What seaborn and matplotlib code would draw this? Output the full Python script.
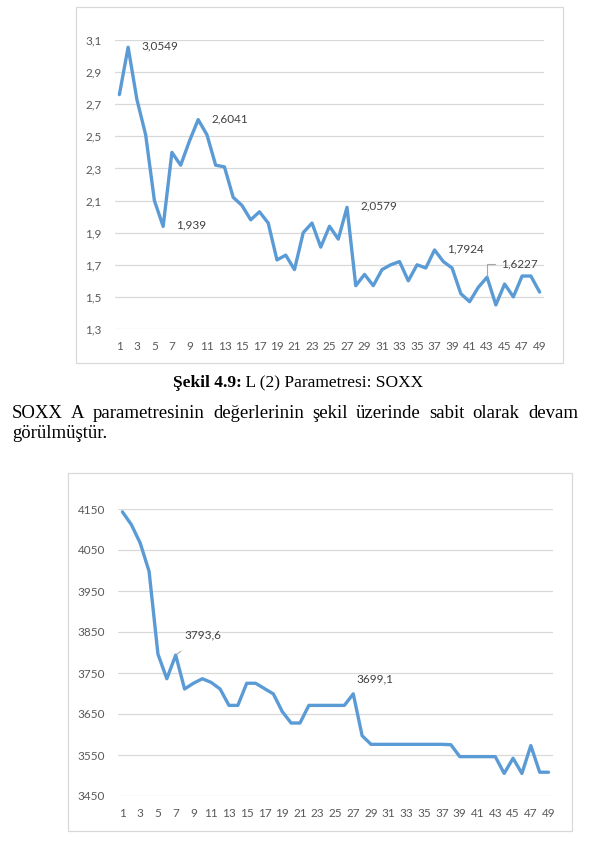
import numpy as np
import pandas as pd
import matplotlib
matplotlib.use('Agg')
import matplotlib.pyplot as plt
import seaborn as sns
from matplotlib.patches import Rectangle

# ---- data ----
iterations = list(range(1, 50))

soxx_l = [2.76, 3.0549, 2.73, 2.51, 2.10, 1.939, 2.40, 2.32, 2.47, 2.6041,
          2.51, 2.32, 2.31, 2.12, 2.07, 1.98, 2.03, 1.96, 1.73, 1.76,
          1.67, 1.90, 1.96, 1.81, 1.94, 1.86, 2.0579, 1.57, 1.64, 1.57,
          1.67, 1.70, 1.72, 1.60, 1.70, 1.68, 1.7924, 1.72, 1.68, 1.52,
          1.47, 1.56, 1.6227, 1.45, 1.58, 1.50, 1.63, 1.63, 1.53]

soxx_a = [4143, 4112, 4067, 3998, 3796, 3736, 3793.6, 3711, 3725, 3736,
          3727, 3711, 3671, 3671, 3725, 3725, 3712, 3699, 3656, 3628,
          3628, 3671, 3671, 3671, 3671, 3671, 3699.1, 3597, 3576, 3576,
          3576, 3576, 3576, 3576, 3576, 3576, 3576, 3575, 3546, 3546,
          3546, 3546, 3546, 3505, 3542, 3505, 3573, 3508, 3508]

ticks1 = [1.3, 1.5, 1.7, 1.9, 2.1, 2.3, 2.5, 2.7, 2.9, 3.1]
ticks2 = [3450, 3550, 3650, 3750, 3850, 3950, 4050, 4150]

caption_bold = 'Şekil 4.9:'
caption_rest = ' L (2) Parametresi: SOXX'
para_line1 = 'SOXX A parametresinin değerlerinin şekil üzerinde sabit olarak devam'
para_line2 = 'görülmüştür.'

# ---- style ----
sns.set_theme(style='white')
plt.rcParams['font.family'] = ['Lato', 'DejaVu Sans']

LINE = '#5B9BD5'
GRID = '#D9D9D9'
TICK = '#595959'
LABEL = '#404040'
FS = 8.5

W, H = 591, 843
fig = plt.figure(figsize=(W / 100, H / 100), dpi=100)
fig.patch.set_facecolor('white')


def px_axes(x0, y0, x1, y1):
    return fig.add_axes([x0 / W, 1 - y1 / H, (x1 - x0) / W, (y1 - y0) / H])


def frame(x0, y0, x1, y1):
    fig.patches.append(Rectangle((x0 / W, 1 - y1 / H), (x1 - x0) / W, (y1 - y0) / H,
                                 transform=fig.transFigure, fill=False,
                                 edgecolor=GRID, linewidth=0.9, zorder=0))


def style_axes(ax, ticks, fmt, ylim):
    ax.set_xlim(0.5, 49.5)
    ax.set_ylim(*ylim)
    ax.set_yticks(ticks)
    ax.set_yticklabels([fmt(t) for t in ticks])
    ax.set_xticks(iterations[::2])
    ax.set_xticklabels([str(i) for i in iterations[::2]])
    ax.tick_params(axis='both', length=0, colors=TICK, labelsize=FS)
    ax.tick_params(axis='y', pad=9.5)
    ax.tick_params(axis='x', pad=8.5)
    ax.yaxis.grid(True, color=GRID, linewidth=0.9)
    ax.xaxis.grid(False)
    ax.set_axisbelow(True)
    for s in ax.spines.values():
        s.set_visible(False)
    ax.set_xlabel('')
    ax.set_ylabel('')
    ax.set_facecolor('none')


def comma(v, nd):
    return f'{v:.{nd}f}'.replace('.', ',')


# ---- chart 1: L parameter ----
frame(76, 7, 563, 363)
ax1 = px_axes(115, 40, 544, 329)
df1 = pd.DataFrame({'iter': iterations, 'val': soxx_l})
sns.lineplot(data=df1, x='iter', y='val', ax=ax1, color=LINE, linewidth=2.4)
style_axes(ax1, ticks1, lambda t: comma(t, 1), (1.3, 3.1))

for i in [2, 6, 10, 27, 37]:
    v = soxx_l[i - 1]
    ax1.annotate(str(v).replace('.', ','), (i, v), xytext=(13, 1),
                 textcoords='offset pixels', ha='left', va='center',
                 fontsize=FS, color=LABEL)
ax1.annotate(str(soxx_l[42]).replace('.', ','), (43, soxx_l[42]), xytext=(14, 13),
             textcoords='offset pixels', ha='left', va='center',
             fontsize=FS, color=LABEL,
             arrowprops=dict(arrowstyle='-', color='#A6A6A6', linewidth=0.8,
                             shrinkA=2, shrinkB=1,
                             connectionstyle='angle,angleA=0,angleB=90,rad=0'))

# ---- chart 2: A parameter ----
frame(68, 473, 572, 831)
ax2 = px_axes(118, 509, 553, 796)
df2 = pd.DataFrame({'iter': iterations, 'val': soxx_a})
sns.lineplot(data=df2, x='iter', y='val', ax=ax2, color=LINE, linewidth=2.4)
style_axes(ax2, ticks2, lambda t: str(int(t)), (3450, 4150))

ax2.annotate('3793,6', (7, 3793.6), xytext=(27, 20), textcoords='offset pixels',
             ha='center', va='center', fontsize=FS, color=LABEL,
             arrowprops=dict(arrowstyle='-', color='#A6A6A6', linewidth=0.8,
                             shrinkA=9, shrinkB=1))
ax2.annotate('3699,1', (27, 3699.1), xytext=(3, 15), textcoords='offset pixels',
             ha='left', va='center', fontsize=FS, color=LABEL)

# ---- caption and body text ----
serif = ['Liberation Serif', 'DejaVu Serif']
fig.canvas.draw()
r = fig.canvas.get_renderer()
tb = fig.text(0, 1 - 383 / H, caption_bold, family=serif, weight='bold', fontsize=12.5,
              va='center', ha='left', color='black')
tr = fig.text(0, 1 - 383 / H, caption_rest, family=serif, fontsize=12.5,
              va='center', ha='left', color='black')
wb = tb.get_window_extent(r).width
wr = tr.get_window_extent(r).width
x0 = 298 - (wb + wr) / 2
tb.set_x(x0 / W)
tr.set_x((x0 + wb) / W)

# justified first line
words = para_line1.split(' ')
objs = [fig.text(0, 1 - 414 / H, w, family=serif, fontsize=13.5, va='center', ha='left',
                 color='black') for w in words]
widths = [o.get_window_extent(r).width for o in objs]
gap = (578 - 12 - sum(widths)) / (len(words) - 1)
xx = 12
for o, w in zip(objs, widths):
    o.set_x(xx / W)
    xx += w + gap
fig.text(12 / W, 1 - 433 / H, para_line2, family=serif, fontsize=13.5, va='center',
         ha='left', color='black')

fig.savefig('out.png', dpi=100, facecolor='white')
